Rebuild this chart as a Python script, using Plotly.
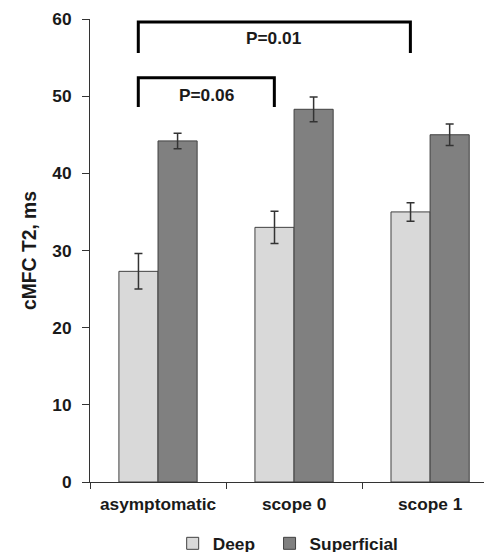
import plotly.graph_objects as go

categories = ["asymptomatic", "scope 0", "scope 1"]
deep = [27.3, 33.0, 35.0]
deep_err = [2.3, 2.1, 1.2]
superficial = [44.2, 48.3, 45.0]
superficial_err = [1.0, 1.6, 1.4]
y_ticks = [0, 10, 20, 30, 40, 50, 60]
# comparisons: (from group index, to group index, bracket top, leg bottom, label y, label)
comparisons = [
    (0, 1, 52.4, 48.6, 50.2, "P=0.06"),
    (0, 2, 59.6, 55.6, 57.6, "P=0.01"),
]

font_fam = "Liberation Sans"
txt = "#1a1a1a"
nb = "\u00a0"
fs = 17.3

fig = go.Figure()
fig.add_trace(go.Bar(
    x=categories, y=deep, name="<b>Deep</b>" + nb * 2,
    marker=dict(color="#d9d9d9", line=dict(color="#404040", width=1)),
    error_y=dict(type="data", array=deep_err, color="#333333", thickness=1.5, width=4),
))
fig.add_trace(go.Bar(
    x=categories, y=superficial, name="<b>Superficial</b>",
    marker=dict(color="#808080", line=dict(color="#404040", width=1)),
    error_y=dict(type="data", array=superficial_err, color="#333333", thickness=1.5, width=4),
))

off = -0.145
for i0, i1, ytop, ybot, ylab, lab in comparisons:
    x0, x1 = i0 + off, i1 + off
    fig.add_shape(type="path", xref="x", yref="y",
                  path=f"M {x0},{ybot} L {x0},{ytop} L {x1},{ytop} L {x1},{ybot}",
                  line=dict(color="black", width=3))
    fig.add_annotation(x=(x0 + x1) / 2, y=ylab, text="<b>%s</b>" % lab, showarrow=False,
                       font=dict(family=font_fam, size=fs, color=txt))

fig.update_layout(
    width=492, height=562,
    margin=dict(l=89.5, r=0, t=19.3, b=76),
    plot_bgcolor="white", paper_bgcolor="white",
    barmode="group", bargap=0.425, bargroupgap=0,
    font=dict(family=font_fam, size=fs, color=txt),
    legend=dict(orientation="h", x=0.493, xanchor="center", y=-0.133, yanchor="middle",
                font=dict(size=fs, family=font_fam, color=txt), traceorder="normal",
                itemwidth=30, tracegroupgap=0),
    xaxis=dict(type="category", range=[-0.5, 2.455],
               ticktext=["<b>%s</b>" % c for c in categories], tickvals=categories,
               tickson="boundaries", ticks="outside", ticklen=6, tickcolor="#333",
               showline=True, linecolor="#333", linewidth=1, showgrid=False,
               zeroline=False, tickfont=dict(size=fs), automargin=False, ticklabelstandoff=6),
    yaxis=dict(range=[0, 60], tickvals=y_ticks, ticktext=["<b>%d</b>" % v for v in y_ticks],
               showline=True, linecolor="#333", linewidth=1, ticks="outside", ticklen=7,
               tickcolor="#333", showgrid=False, zeroline=False, automargin=False,
               ticklabelstandoff=7,
               title=dict(text="<b>cMFC T2, ms</b>", font=dict(size=19.3), standoff=10),
               tickfont=dict(size=fs)),
)
fig.write_html("out.html", config={"displayModeBar": False},
               post_script="document.body.style.margin='0';document.body.style.overflow='hidden';")
